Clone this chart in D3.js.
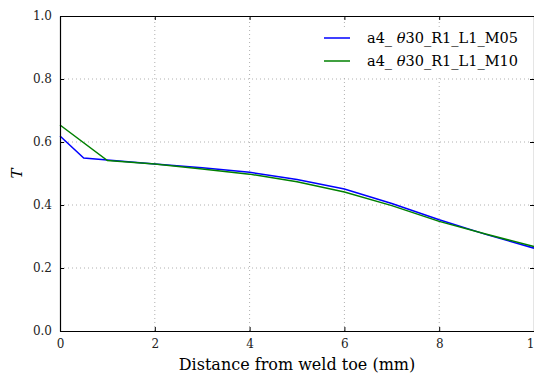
<!DOCTYPE html>
<html>
<head>
<meta charset="utf-8">
<script src="https://cdn.jsdelivr.net/npm/d3@7"></script>
<style>
  body { margin: 0; background: #fff; }
  svg text { font-family: "DejaVu Serif", "Liberation Serif", serif; fill: #000; }
</style>
</head>
<body>
<div id="chart"></div>
<script>
// data
const xM05 = [0, 0.5, 1, 2, 3, 4, 5, 6, 7, 8, 9, 10];
const yM05 = [0.619, 0.549, 0.543, 0.530, 0.518, 0.504, 0.481, 0.451, 0.405, 0.353, 0.306, 0.263];
const xM10 = [0, 1, 2, 3, 4, 5, 6, 7, 8, 9, 10];
const yM10 = [0.654, 0.541, 0.530, 0.514, 0.498, 0.474, 0.441, 0.398, 0.348, 0.307, 0.268];
const seriesNames = [["a4_ ", "θ", "30_R1_L1_M05"], ["a4_ ", "θ", "30_R1_L1_M10"]];
const xTicks = [0, 2, 4, 6, 8, 10];
const yTicks = [0.0, 0.2, 0.4, 0.6, 0.8, 1.0];

const width = 534, height = 374;
const margin = { top: 16, right: 0, bottom: 43, left: 60 };
const serif = "'DejaVu Serif', 'Liberation Serif', serif";

const svg = d3.select("#chart").append("svg")
  .attr("width", width)
  .attr("height", height);

const x = d3.scaleLinear().domain([0, 10]).range([margin.left, 534]);
const y = d3.scaleLinear().domain([0, 1]).range([height - margin.bottom, margin.top]);

// grid
svg.append("g").selectAll("line").data(xTicks.slice(1, -1)).join("line")
  .attr("x1", d => x(d)).attr("x2", d => x(d))
  .attr("y1", y(0)).attr("y2", y(1))
  .style("stroke", "#b0b0b0").style("stroke-dasharray", "1,3").style("stroke-width", 1);
svg.append("g").selectAll("line").data(yTicks.slice(1, -1)).join("line")
  .attr("x1", x(0)).attr("x2", x(10))
  .attr("y1", d => y(d)).attr("y2", d => y(d))
  .style("stroke", "#b0b0b0").style("stroke-dasharray", "1,3").style("stroke-width", 1);

// lines
const line = (xs) => d3.line().x((d, i) => x(xs[i])).y(d => y(d));
const plot = svg.append("g");
plot.append("path").datum(yM05)
  .attr("d", line(xM05))
  .style("fill", "none").style("stroke", "#0000ff").style("stroke-width", 1.5);
plot.append("path").datum(yM10)
  .attr("d", line(xM10))
  .style("fill", "none").style("stroke", "#008000").style("stroke-width", 1.5);

// axes with inward ticks
const fmt = d3.format(".1f");
const bottom = svg.append("g").attr("transform", `translate(0,${y(0)})`)
  .call(d3.axisBottom(x).tickValues(xTicks).tickSizeInner(-4).tickSizeOuter(0).tickPadding(8).tickFormat(d3.format("d")));
const left = svg.append("g").attr("transform", `translate(${x(0)},0)`)
  .call(d3.axisLeft(y).tickValues(yTicks).tickSizeInner(-4).tickSizeOuter(0).tickPadding(8).tickFormat(fmt));
svg.append("g").attr("transform", `translate(0,${y(1)})`)
  .call(d3.axisTop(x).tickValues(xTicks).tickSizeInner(-4).tickSizeOuter(0).tickFormat(""));
svg.append("g").attr("transform", `translate(${x(10)},0)`)
  .call(d3.axisRight(y).tickValues(yTicks).tickSizeInner(-4).tickSizeOuter(0).tickFormat(""));

svg.selectAll("g").attr("font-family", serif);
svg.selectAll(".domain").style("stroke", "#000").style("stroke-width", 1.2);
svg.selectAll(".tick line").style("stroke", "#000");
bottom.selectAll("text").style("font-size", "12px").style("font-family", serif).style("fill", "#222");
left.selectAll("text").style("font-size", "12px").style("font-family", serif).style("fill", "#222");

// axis labels
svg.append("text")
  .attr("x", x(5)).attr("y", 370)
  .attr("text-anchor", "middle")
  .style("font-size", "16px").style("font-family", serif)
  .text("Distance from weld toe (mm)");
svg.append("text")
  .attr("transform", `translate(22,${y(0.5)}) rotate(-90)`)
  .attr("text-anchor", "middle")
  .style("font-size", "15px").style("font-style", "italic").style("font-family", serif)
  .text("T");

// legend
const legend = svg.append("g");
legend.append("rect")
  .attr("x", 314).attr("y", 28).attr("width", 216).attr("height", 48)
  .style("fill", "#fff");
const colors = ["#0000ff", "#008000"];
seriesNames.forEach((parts, i) => {
  const ly = 38 + i * 23;
  legend.append("line")
    .attr("x1", 324).attr("x2", 350).attr("y1", ly).attr("y2", ly)
    .style("stroke", colors[i]).style("stroke-width", 1.5);
  const t = legend.append("text")
    .attr("x", 367).attr("y", ly + 5)
    .style("font-size", "14.5px").style("font-family", serif);
  parts.forEach((p, j) => {
    t.append("tspan").style("font-style", j === 1 ? "italic" : "normal").text(p);
  });
});
</script>
</body>
</html>
